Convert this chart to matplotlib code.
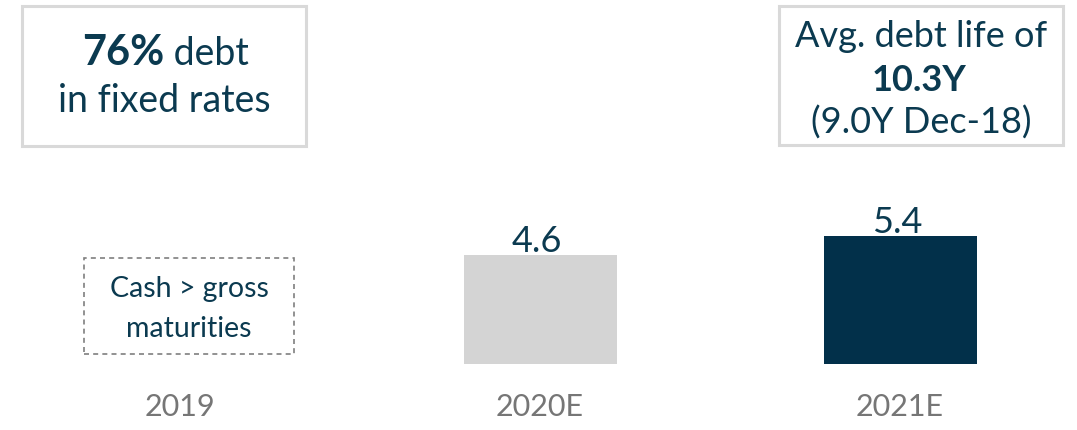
import matplotlib
matplotlib.use("Agg")
import matplotlib.pyplot as plt
from matplotlib.patches import Rectangle

# Gross debt maturities (EUR bn)
years = ["2019", "2020E", "2021E"]
maturities = [None, 4.6, 5.4]
bar_colors = ["#FFFFFF", "#D4D4D4", "#02304A"]

fixed_rate_share = "76%"
avg_life = "10.3Y"
avg_life_prev = "(9.0Y Dec-18)"

NAVY = "#0B3A50"
GREY_TXT = "#767676"
BOX_EDGE = "#D9D9D9"

W, H = 1077, 431
plt.rcParams["font.family"] = ["Lato", "DejaVu Sans"]

fig = plt.figure(figsize=(W / 100, H / 100), dpi=100)


def fx(px):
    return px / W


def fy(py):
    return 1 - py / H


# Main axes: baseline at y=365 px, category centres at 180 / 540 / 900 px
base_px = 365
px_per_unit = 23.7
ax = fig.add_axes([0, fy(base_px), 1, base_px / H])
ax.set_xlim(-180 / 360, 2 + (W - 900) / 360)
ax.set_ylim(0, base_px / px_per_unit)

for i, (yr, val) in enumerate(zip(years, maturities)):
    if val is None:
        continue
    ax.bar(i, val, width=0.425, color=bar_colors[i], zorder=2)
    ax.annotate(f"{val:.1f}", xy=(i, val), xytext=(-3, 4),
                textcoords="offset pixels", ha="center", va="baseline",
                fontsize=26, color=NAVY)

ax.set_xticks(range(len(years)))
ax.set_xticklabels(years, fontsize=22, color=GREY_TXT)
ax.tick_params(axis="x", length=0, pad=20)
ax.set_yticks([])
for s in ax.spines.values():
    s.set_visible(False)
ax.patch.set_alpha(0)

# 2019 placeholder: dashed box
fig.patches.append(Rectangle((fx(84), fy(355)), fx(294) - fx(84), fy(259) - fy(355),
                             transform=fig.transFigure, fill=False,
                             edgecolor="#7F7F7F", linewidth=1.2,
                             linestyle=(0, (3, 2.5))))
fig.text(fx(189), fy(297), "Cash > gross", ha="center", va="baseline",
         fontsize=20.5, color=NAVY)
fig.text(fx(189), fy(337), "maturities", ha="center", va="baseline",
         fontsize=20.5, color=NAVY)

# Fixed-rate callout
fig.patches.append(Rectangle((fx(22), fy(147)), fx(306) - fx(22), fy(7) - fy(147),
                             transform=fig.transFigure, fill=False,
                             edgecolor=BOX_EDGE, linewidth=2.2))
fig.text(fx(164), fy(65), fixed_rate_share, ha="right", va="baseline",
         fontsize=30, fontweight="bold", color=NAVY)
fig.text(fx(164), fy(65), " debt", ha="left", va="baseline",
         fontsize=27, color=NAVY)
fig.text(fx(164), fy(112), "in fixed rates", ha="center", va="baseline",
         fontsize=27, color=NAVY)

# Average debt life callout
fig.patches.append(Rectangle((fx(779), fy(146)), fx(1063) - fx(779), fy(7) - fy(146),
                             transform=fig.transFigure, fill=False,
                             edgecolor=BOX_EDGE, linewidth=2.2))
fig.text(fx(921), fy(47), "Avg. debt life of", ha="center", va="baseline",
         fontsize=26, color=NAVY)
fig.text(fx(919), fy(91), avg_life, ha="center", va="baseline",
         fontsize=26, fontweight="bold", color=NAVY)
fig.text(fx(921), fy(134), avg_life_prev, ha="center", va="baseline",
         fontsize=26, color=NAVY)

fig.savefig("out.png", dpi=100, facecolor="white")
